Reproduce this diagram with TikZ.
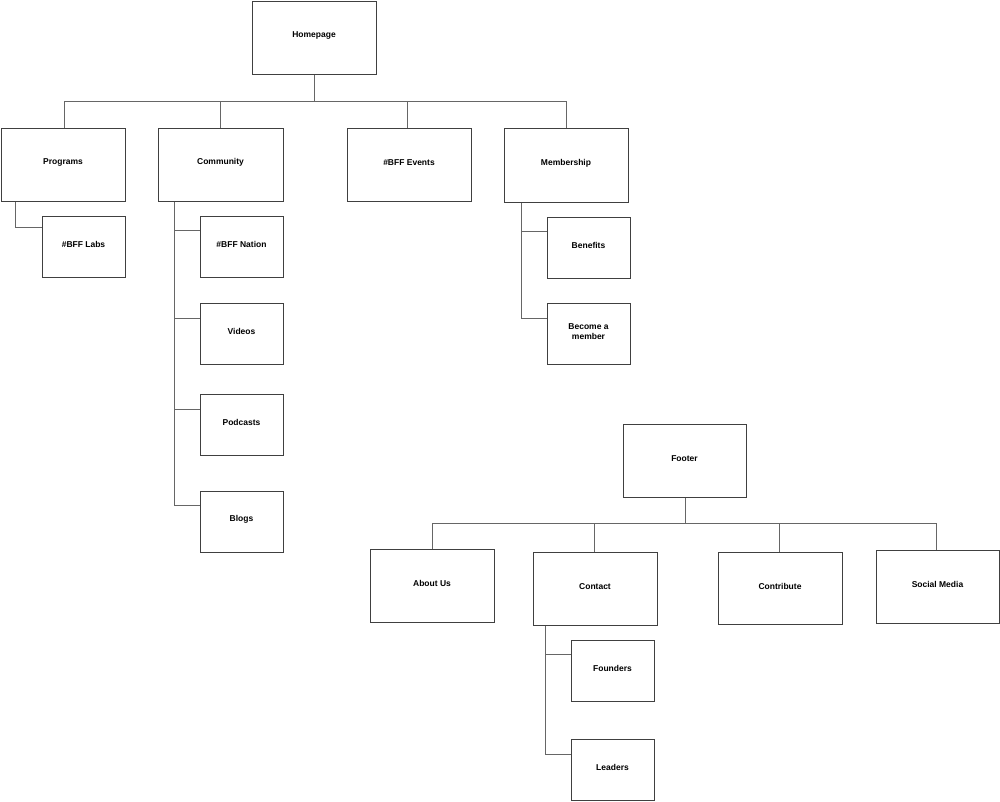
\documentclass[tikz,border=0pt]{standalone}
\usepackage{fontspec}
\setmainfont{Liberation Sans}
\begin{document}
\begin{tikzpicture}[x=1pt,y=-1pt,
  box/.style={draw=black!75,line width=0.8pt,fill=white},
  lbl/.style={font=\bfseries\fontsize{8.5}{10}\selectfont,align=center},
  conn/.style={draw=black!60,line width=0.6pt}]
\useasboundingbox (0,0) rectangle (1000,801);
\newcommand\bx[6]{%
  \path[box] (#2,#3) rectangle (#4,#5);
  \coordinate (#1) at ({(#2+#4)/2},{(#3+#5)/2});
  \coordinate (#1-n) at ({(#2+#4)/2},#3);
  \coordinate (#1-s) at ({(#2+#4)/2},#5);
  \coordinate (#1-w) at (#2,{(#3+#5)/2});
  \node[lbl] (#1-t) at ({(#2+#4)/2},{(#3+#5)/2-2}) {#6};}
% connectors
\draw[conn] (314,74) -- (314,101);
\draw[conn] (64,128) -- (64,101) -- (566,101) -- (566,128);
\draw[conn] (220,101) -- (220,128);
\draw[conn] (407,101) -- (407,128);
\draw[conn] (15,201) -- (15,227) -- (42,227);
\draw[conn] (174,201) -- (174,505) -- (200,505);
\draw[conn] (174,230) -- (200,230);
\draw[conn] (174,318) -- (200,318);
\draw[conn] (174,409) -- (200,409);
\draw[conn] (521,202) -- (521,318) -- (547,318);
\draw[conn] (521,231) -- (547,231);
\draw[conn] (685,497) -- (685,523);
\draw[conn] (432,549) -- (432,523) -- (936,523) -- (936,550);
\draw[conn] (594,523) -- (594,552);
\draw[conn] (779,523) -- (779,552);
\draw[conn] (545,625) -- (545,754) -- (571,754);
\draw[conn] (545,654) -- (571,654);
% boxes
\bx{home}{252}{1}{376}{74}{Homepage}
\bx{prog}{1}{128}{125}{201}{Programs}
\bx{comm}{158}{128}{283}{201}{Community}
\bx{ev}{347}{128}{471}{201}{\#BFF Events}
\bx{mem}{504}{128}{628}{202}{Membership}
\bx{labs}{42}{216}{125}{277}{\#BFF Labs}
\bx{nat}{200}{216}{283}{277}{\#BFF Nation}
\bx{vid}{200}{303}{283}{364}{Videos}
\bx{pod}{200}{394}{283}{455}{Podcasts}
\bx{blog}{200}{491}{283}{552}{Blogs}
\bx{ben}{547}{217}{630}{278}{Benefits}
\bx{bec}{547}{303}{630}{364}{Become a\\member}
\bx{foot}{623}{424}{746}{497}{Footer}
\bx{about}{370}{549}{494}{622}{About Us}
\bx{cont}{533}{552}{657}{625}{Contact}
\bx{contr}{718}{552}{842}{624}{Contribute}
\bx{soc}{876}{550}{999}{623}{Social Media}
\bx{found}{571}{640}{654}{701}{Founders}
\bx{lead}{571}{739}{654}{800}{Leaders}
\end{tikzpicture}
\end{document}
